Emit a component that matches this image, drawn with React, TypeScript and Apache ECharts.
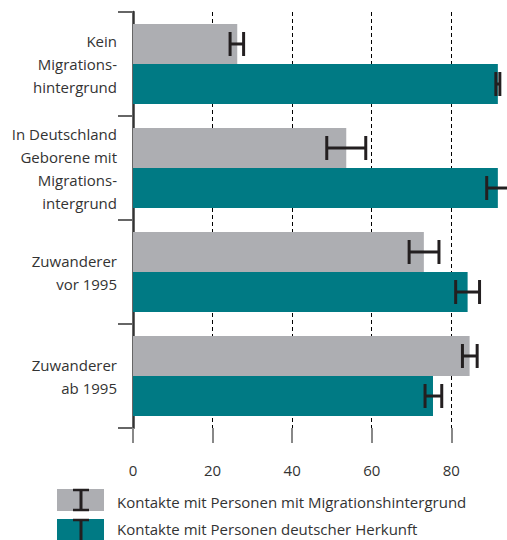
import React, { useEffect, useRef } from "react";
import * as echarts from "echarts";

const categories = [
  "Kein\nMigrations-\nhintergrund",
  "In Deutschland\nGeborene mit\nMigrations-\nintergrund",
  "Zuwanderer\nvor 1995",
  "Zuwanderer\nab 1995",
];
const seriesNames = [
  "Kontakte mit Personen mit Migrationshintergrund",
  "Kontakte mit Personen deutscher Herkunft",
];
const migrationValues = [26.2, 53.6, 73.1, 84.6];
const migrationLow = [24.4, 48.7, 69.4, 82.8];
const migrationHigh = [27.8, 58.5, 76.9, 86.5];
const germanValues = [91.7, 91.7, 84.1, 75.4];
const germanLow = [91.2, 88.9, 81.1, 73.4];
const germanHigh = [92.2, 94.5, 87.1, 77.6];
const xMin = 0;
const xMax = 94;
const xInterval = 20;

const GREY = "#adaeb2";
const TEAL = "#007a84";
const INK = "#231f20";
const FONT = "Open Sans";
const CAT_GAP = 0.23;

function makeErrRender(sign: number) {
  return (params: any, api: any) => {
    const cat = api.value(0);
    const lo = api.value(1);
    const hi = api.value(2);
    const p1 = api.coord([lo, cat]);
    const p2 = api.coord([hi, cat]);
    const band = api.size([0, 1])[1];
    const barW = (band * (1 - CAT_GAP)) / 2;
    const y = p1[1] + (sign * barW) / 2;
    const h = 12;
    const style = { stroke: INK, lineWidth: 3 };
    return {
      type: "group",
      children: [
        { type: "line", shape: { x1: p1[0], y1: y, x2: p2[0], y2: y }, style },
        { type: "line", shape: { x1: p1[0], y1: y - h, x2: p1[0], y2: y + h }, style },
        { type: "line", shape: { x1: p2[0], y1: y - h, x2: p2[0], y2: y + h }, style },
      ],
    };
  };
}

export default function App() {
  const ref = useRef<HTMLDivElement>(null);
  useEffect(() => {
    if (!ref.current) return;
    const chart = echarts.init(ref.current, null, { renderer: "svg" });
    const migErr = categories.map((_, i) => [i, migrationLow[i], migrationHigh[i]]);
    const gerErr = categories.map((_, i) => [i, germanLow[i], germanHigh[i]]);
    chart.setOption({
      animation: false,
      backgroundColor: "#ffffff",
      textStyle: { fontFamily: FONT },
      grid: { left: 133, right: -1, top: 12, bottom: 112, containLabel: false },
      xAxis: {
        type: "value",
        min: xMin,
        max: xMax,
        interval: xInterval,
        axisLine: { show: false },
        axisTick: { show: true, length: 15, lineStyle: { color: "#888888", width: 2 } },
        axisLabel: {
          margin: 34,
          fontSize: 15,
          color: "#333333",
          fontFamily: FONT,
          showMaxLabel: false,
          formatter: (v: number) => (v % xInterval === 0 ? String(v) : ""),
        },
        splitLine: { show: true, lineStyle: { color: "#000000", type: [4, 3], width: 1 } },
      },
      yAxis: {
        type: "category",
        data: categories,
        inverse: true,
        axisLine: { show: true, lineStyle: { color: "#333333", width: 2.5 } },
        axisTick: { show: true, length: 15, lineStyle: { color: "#666666", width: 2 } },
        axisLabel: {
          margin: 16,
          fontSize: 15,
          lineHeight: 23,
          color: "#333333",
          fontFamily: FONT,
          align: "right",
        },
        splitLine: { show: false },
      },
      series: [
        {
          name: seriesNames[0],
          type: "bar",
          data: migrationValues,
          itemStyle: { color: GREY },
          barGap: "0%",
          barCategoryGap: "23%",
        },
        {
          name: seriesNames[1],
          type: "bar",
          data: germanValues,
          itemStyle: { color: TEAL },
          barGap: "0%",
          barCategoryGap: "23%",
        },
        {
          type: "custom",
          renderItem: makeErrRender(-1),
          data: migErr,
          encode: { x: [1, 2], y: 0 },
          z: 5,
        },
        {
          type: "custom",
          renderItem: makeErrRender(1),
          data: gerErr,
          encode: { x: [1, 2], y: 0 },
          z: 5,
        },
      ],
      graphic: [
        { type: "rect", shape: { x: 57, y: 489, width: 47, height: 22 }, style: { fill: GREY } },
        { type: "line", shape: { x1: 81, y1: 490, x2: 81, y2: 510 }, style: { stroke: INK, lineWidth: 3 } },
        { type: "line", shape: { x1: 73, y1: 490, x2: 89, y2: 490 }, style: { stroke: INK, lineWidth: 2.5 } },
        { type: "line", shape: { x1: 73, y1: 510, x2: 89, y2: 510 }, style: { stroke: INK, lineWidth: 2.5 } },
        { type: "rect", shape: { x: 57, y: 519, width: 47, height: 22 }, style: { fill: TEAL } },
        { type: "line", shape: { x1: 81, y1: 520, x2: 81, y2: 541 }, style: { stroke: INK, lineWidth: 3 } },
        { type: "line", shape: { x1: 73, y1: 520, x2: 89, y2: 520 }, style: { stroke: INK, lineWidth: 2.5 } },
        {
          type: "text",
          x: 117,
          y: 502,
          style: { text: seriesNames[0], fill: "#333333", font: `15px '${FONT}'`, verticalAlign: "middle" },
        },
        {
          type: "text",
          x: 117,
          y: 529,
          style: { text: seriesNames[1], fill: "#333333", font: `15px '${FONT}'`, verticalAlign: "middle" },
        },
      ],
    });
    return () => chart.dispose();
  }, []);
  return <div ref={ref} style={{ width: 507, height: 540, position: "absolute", left: 0, top: 0 }} />;
}
